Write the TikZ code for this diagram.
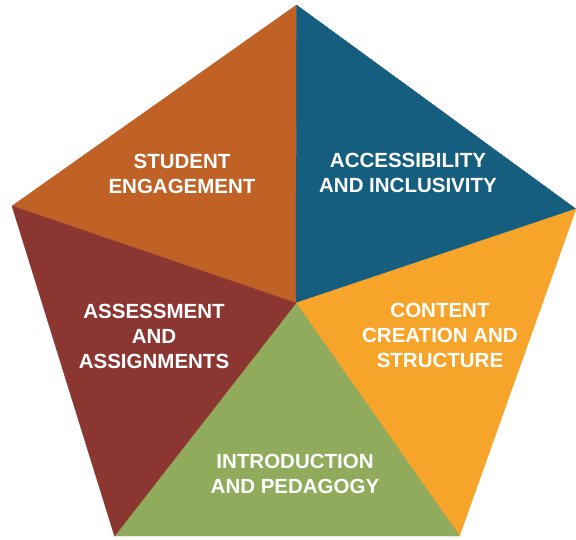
\documentclass[tikz,border=0pt]{standalone}
\usepackage{fontspec}
\setmainfont{Liberation Sans}
\definecolor{cOrange}{HTML}{C06226}
\definecolor{cBlue}{HTML}{165E80}
\definecolor{cAmber}{HTML}{F6A42A}
\definecolor{cGreen}{HTML}{8FAB5B}
\definecolor{cRed}{HTML}{8C3631}
\begin{document}
\begin{tikzpicture}[x=1pt,y=-1pt,
  wedge/.style={line width=0.4pt, line join=round},
  lbl/.style={text=white, align=center, inner sep=0pt, font=\fontsize{20.5}{25}\selectfont\bfseries}]
\useasboundingbox (0,0) rectangle (576,539);
\coordinate (T) at (296.5,5);
\coordinate (R) at (576,209);
\coordinate (BR) at (459.5,536);
\coordinate (BL) at (114.5,536);
\coordinate (L) at (12,206);
\coordinate (C) at (296,303);
\filldraw[wedge, fill=cOrange, draw=cOrange] (C) -- (L) -- (T) -- cycle;
\filldraw[wedge, fill=cBlue, draw=cBlue] (C) -- (T) -- (R) -- cycle;
\filldraw[wedge, fill=cAmber, draw=cAmber] (C) -- (R) -- (BR) -- cycle;
\filldraw[wedge, fill=cGreen, draw=cGreen] (C) -- (BR) -- (BL) -- cycle;
\filldraw[wedge, fill=cRed, draw=cRed] (C) -- (BL) -- (L) -- cycle;
\node[lbl] (se) at (182,174) {STUDENT\\ENGAGEMENT};
\node[lbl] (ai) at (408,173) {ACCESSIBILITY\\AND INCLUSIVITY};
\node[lbl] (cc) at (440,335) {CONTENT\\CREATION AND\\STRUCTURE};
\node[lbl] (aa) at (154,336) {ASSESSMENT\\AND\\ASSIGNMENTS};
\node[lbl] (ip) at (295,474) {INTRODUCTION\\AND PEDAGOGY};
\end{tikzpicture}
\end{document}
